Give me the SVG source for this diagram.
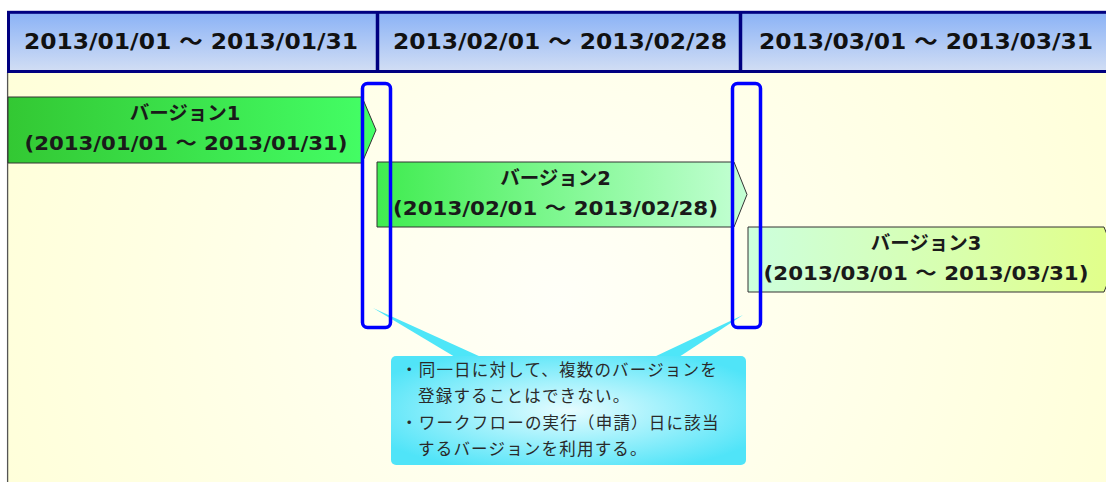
<svg xmlns="http://www.w3.org/2000/svg" width="1106" height="482" viewBox="0 0 1106 482">
  <defs>
    <radialGradient id="bgGrad" cx="560" cy="300" r="620" gradientUnits="userSpaceOnUse">
      <stop offset="0" stop-color="#fffff8"/>
      <stop offset="1" stop-color="#ffffd8"/>
    </radialGradient>
    <linearGradient id="hdrGrad" x1="0" y1="0" x2="0" y2="1">
      <stop offset="0" stop-color="#8ab2f6"/>
      <stop offset="1" stop-color="#d2def4"/>
    </linearGradient>
    <linearGradient id="v1Grad" x1="0" y1="0" x2="1" y2="0">
      <stop offset="0" stop-color="#33c833"/>
      <stop offset="1" stop-color="#44ff66"/>
    </linearGradient>
    <linearGradient id="v2Grad" x1="0" y1="0" x2="1" y2="0">
      <stop offset="0" stop-color="#40ec50"/>
      <stop offset="0.5" stop-color="#80f892"/>
      <stop offset="1" stop-color="#c4ffd4"/>
    </linearGradient>
    <linearGradient id="v3Grad" x1="0" y1="0" x2="1" y2="0">
      <stop offset="0" stop-color="#ccffdd"/>
      <stop offset="1" stop-color="#e2ff88"/>
    </linearGradient>
    <radialGradient id="calloutGrad" cx="0.5" cy="0.5" r="0.6">
      <stop offset="0" stop-color="#e6fcff"/>
      <stop offset="1" stop-color="#50e4f8"/>
    </radialGradient>
  </defs>
  <style>
    .hdr { font-family: "DejaVu Sans", "Noto Sans CJK JP", sans-serif; font-weight: bold; font-size: 22px; fill: #111; }
    .lbl { font-family: "DejaVu Sans", "Noto Sans CJK JP", sans-serif; font-weight: bold; font-size: 19.5px; fill: #1a1a1a; text-anchor: middle; }
    .bar { stroke: #333; stroke-width: 1; }
    .hl { fill: none; stroke: #0000ff; stroke-width: 3.5; }
    .note { font-family: "Noto Sans CJK JP", sans-serif; font-size: 16.5px; letter-spacing: 1.2px; fill: #2a2a2a; }
  </style>

  <rect x="0" y="0" width="1106" height="482" fill="#ffffff"/>
  <g id="background">
    <rect x="8" y="73" width="1098" height="409" fill="url(#bgGrad)"/>
    <line x1="7.6" y1="72" x2="7.6" y2="482" stroke="#555" stroke-width="1.3"/>
  </g>

  <g id="header">
    <rect x="8.5" y="12.3" width="1110" height="59.2" fill="url(#hdrGrad)" stroke="#000080" stroke-width="3"/>
    <line x1="377.5" y1="12" x2="377.5" y2="72" stroke="#000080" stroke-width="3.5"/>
    <line x1="740.5" y1="12" x2="740.5" y2="72" stroke="#000080" stroke-width="3.5"/>
    <text class="hdr" x="24" y="49" textLength="334" lengthAdjust="spacingAndGlyphs">2013/01/01 ～ 2013/01/31</text>
    <text class="hdr" x="393" y="49" textLength="334" lengthAdjust="spacingAndGlyphs">2013/02/01 ～ 2013/02/28</text>
    <text class="hdr" x="759" y="49" textLength="334" lengthAdjust="spacingAndGlyphs">2013/03/01 ～ 2013/03/31</text>
  </g>

  <g id="version1">
    <polygon class="bar" points="8,97 362,97 376,130 362,163 8,163" fill="url(#v1Grad)"/>
    <text class="lbl" x="185" y="120">バージョン1</text>
    <text class="lbl" x="186" y="150" textLength="323" lengthAdjust="spacingAndGlyphs">(2013/01/01 ～ 2013/01/31)</text>
  </g>

  <g id="version2">
    <polygon class="bar" points="377,162 734,162 747,194.5 734,227 377,227" fill="url(#v2Grad)"/>
    <text class="lbl" x="555.5" y="185">バージョン2</text>
    <text class="lbl" x="555.5" y="215" textLength="325" lengthAdjust="spacingAndGlyphs">(2013/02/01 ～ 2013/02/28)</text>
  </g>

  <g id="version3">
    <polygon class="bar" points="748,227 1104,227 1117,259.5 1104,292 748,292" fill="url(#v3Grad)"/>
    <text class="lbl" x="926" y="250">バージョン3</text>
    <text class="lbl" x="926" y="280" textLength="325" lengthAdjust="spacingAndGlyphs">(2013/03/01 ～ 2013/03/31)</text>
  </g>

  <g id="connectors">
    <polygon points="373,308 455,357 481,357" fill="#4ee6f8"/>
    <polygon points="743,315 654,357 679,357" fill="#4ee6f8"/>
  </g>

  <g id="highlight1">
    <rect class="hl" x="362.5" y="83.5" width="28" height="244" rx="5"/>
  </g>
  <g id="highlight2">
    <rect class="hl" x="732.5" y="83.5" width="28" height="244" rx="5"/>
  </g>

  <g id="callout">
    <rect x="391" y="356" width="355" height="109" rx="5" fill="url(#calloutGrad)"/>
    <text class="note" x="401" y="375.5">・同一日に対して、複数のバージョンを</text>
    <text class="note" x="418" y="402">登録することはできない。</text>
    <text class="note" x="401" y="428.5">・ワークフローの実行（申請）日に該当</text>
    <text class="note" x="418" y="455">するバージョンを利用する。</text>
  </g>
</svg>
